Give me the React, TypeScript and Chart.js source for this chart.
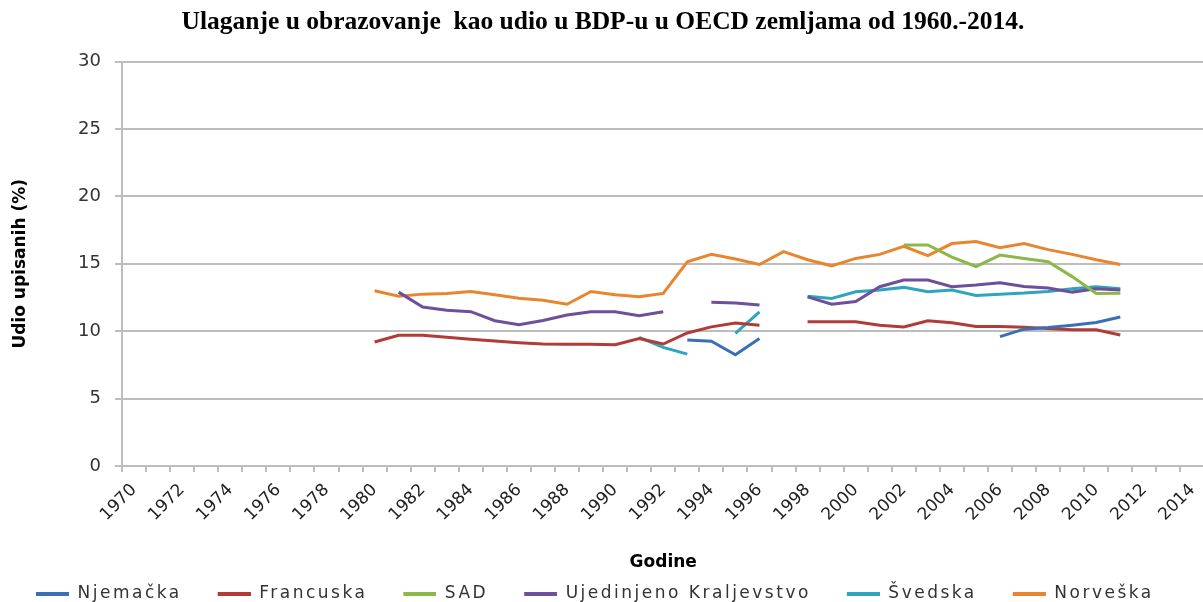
import React, { useEffect, useRef } from 'react';
import { Chart, registerables } from 'chart.js';

Chart.register(...registerables);

const TITLE = 'Ulaganje u obrazovanje  kao udio u BDP-u u OECD zemljama od 1960.-2014.';
const X_TITLE = 'Godine';
const Y_TITLE = 'Udio upisanih (%)';

const years = [
  '1970', '1971', '1972', '1973', '1974', '1975', '1976', '1977', '1978', '1979',
  '1980', '1981', '1982', '1983', '1984', '1985', '1986', '1987', '1988', '1989',
  '1990', '1991', '1992', '1993', '1994', '1995', '1996', '1997', '1998', '1999',
  '2000', '2001', '2002', '2003', '2004', '2005', '2006', '2007', '2008', '2009',
  '2010', '2011', '2012', '2013', '2014',
];

const _ = null;

// 1970-1979 empty, then 1980 ... 2014
const njemacka = [
  _, _, _, _, _, _, _, _, _, _,
  _, _, _, _, _, _, _, _, _, _,
  _, _, _, 9.35, 9.25, 8.25, 9.45, _, _, _,
  _, _, _, _, _, _, 9.6, 10.15, 10.27, 10.45,
  10.65, 11.05, _, _, _,
];

const francuska = [
  _, _, _, _, _, _, _, _, _, _,
  9.2, 9.7, 9.7, 9.55, 9.4, 9.28, 9.15, 9.05, 9.03, 9.03,
  9.0, 9.45, 9.05, 9.87, 10.32, 10.6, 10.45, _, 10.7, 10.7,
  10.7, 10.45, 10.32, 10.77, 10.62, 10.35, 10.35, 10.3, 10.2, 10.1,
  10.1, 9.72, _, _, _,
];

const sad = [
  _, _, _, _, _, _, _, _, _, _,
  _, _, _, _, _, _, _, _, _, _,
  _, _, _, _, _, _, _, _, _, _,
  _, _, 16.4, 16.4, 15.5, 14.8, 15.65, 15.4, 15.15, 14.05,
  12.8, 12.82, _, _, _,
];

const ujedinjenoKraljevstvo = [
  _, _, _, _, _, _, _, _, _, _,
  _, 12.9, 11.8, 11.55, 11.45, 10.78, 10.48, 10.8, 11.2, 11.45,
  11.45, 11.15, 11.45, _, 12.15, 12.1, 11.95, _, 12.55, 12.0,
  12.2, 13.3, 13.8, 13.8, 13.3, 13.42, 13.6, 13.32, 13.2, 12.9,
  13.15, 13.05, _, _, _,
];

const svedska = [
  _, _, _, _, _, _, _, _, _, _,
  _, _, _, _, _, _, _, _, _, _,
  _, 9.55, 8.8, 8.3, _, 9.83, 11.43, _, 12.6, 12.43,
  12.92, 13.05, 13.25, 12.92, 13.05, 12.65, 12.75, 12.83, 12.95, 13.15,
  13.3, 13.15, _, _, _,
];

const norveska = [
  _, _, _, _, _, _, _, _, _, _,
  13.0, 12.6, 12.75, 12.8, 12.95, 12.7, 12.45, 12.3, 12.0, 12.95,
  12.7, 12.55, 12.8, 15.15, 15.7, 15.35, 14.95, 15.9, 15.3, 14.85,
  15.4, 15.7, 16.3, 15.6, 16.5, 16.65, 16.2, 16.5, 16.05, 15.7,
  15.3, 14.95, _, _, _,
];

const seriesNames = ['Njemačka', 'Francuska', 'SAD', 'Ujedinjeno Kraljevstvo', 'Švedska', 'Norveška'];
const seriesData = [njemacka, francuska, sad, ujedinjenoKraljevstvo, svedska, norveska];
const seriesColors = ['#3B6FB4', '#B03B37', '#8CB84A', '#6E4F9C', '#2FA4BE', '#E8852E'];

const yTicks = [0, 5, 10, 15, 20, 25, 30];

const LEGEND_GAP = 28;
const LEGEND_LINE = 33;
const LEGEND_SPACING = '2.5px';

function legendImage(color: string) {
  const c = document.createElement('canvas');
  c.width = LEGEND_GAP + LEGEND_LINE;
  c.height = 4;
  const g = c.getContext('2d');
  if (g) {
    g.fillStyle = color;
    g.fillRect(LEGEND_GAP, 0, LEGEND_LINE, 4);
  }
  return c;
}

// widen legend text spacing (the reference legend is letter-spaced)
const legendSpacingPlugin = {
  id: 'legendSpacing',
  afterInit(chart: any) {
    const lg = chart.legend;
    if (!lg || lg.__patched) return;
    lg.__patched = true;
    const wrap = (fn: any) =>
      function (this: any, ...args: any[]) {
        const ctx = this.ctx as any;
        const prev = ctx.letterSpacing;
        ctx.letterSpacing = LEGEND_SPACING;
        const r = fn.apply(this, args);
        ctx.letterSpacing = prev ?? '0px';
        return r;
      };
    lg.fit = wrap(lg.fit);
    lg.draw = wrap(lg.draw);
  },
};

const GRID = '#BDBDBD';

export default function App() {
  const ref = useRef<HTMLCanvasElement | null>(null);

  useEffect(() => {
    if (!ref.current) return;
    const imgs = seriesColors.map(legendImage);
    const chart = new Chart(ref.current, {
      type: 'line',
      data: {
        labels: years,
        datasets: seriesNames.map((name, i) => ({
          label: name,
          data: seriesData[i],
          borderColor: seriesColors[i],
          backgroundColor: seriesColors[i],
          borderWidth: 3,
          pointRadius: 0,
          tension: 0,
          spanGaps: false,
        })),
      },
      plugins: [legendSpacingPlugin],
      options: {
        responsive: false,
        animation: false,
        layout: { padding: { left: 0, right: 9, top: 0, bottom: 0 } },
        plugins: {
          title: {
            display: true,
            text: TITLE,
            color: '#000',
            font: { family: 'Liberation Serif', size: 25.5, weight: 'bold' },
            padding: { top: 7, bottom: 24 },
          },
          legend: {
            position: 'bottom',
            align: 'start',
            labels: {
              usePointStyle: true,
              pointStyleWidth: LEGEND_GAP + LEGEND_LINE,
              padding: 8,
              color: '#333',
              font: { family: 'DejaVu Sans', size: 17 },
              generateLabels: (ch: any) =>
                Chart.defaults.plugins.legend.labels
                  .generateLabels(ch)
                  .map((it: any, i: number) => ({ ...it, pointStyle: imgs[i] })),
            },
          },
          tooltip: { enabled: false },
        },
        scales: {
          x: {
            type: 'category',
            offset: true,
            grid: {
              offset: true,
              drawOnChartArea: false,
              drawTicks: true,
              tickLength: 6,
              color: GRID,
              lineWidth: 2,
            },
            border: { color: GRID, width: 2 },
            ticks: {
              autoSkip: false,
              minRotation: 45,
              maxRotation: 45,
              padding: 8,
              color: '#222',
              font: { family: 'DejaVu Sans', size: 17 },
              callback: (_v: any, i: number) => (i % 2 === 0 ? years[i] : ''),
            },
            title: {
              display: true,
              text: X_TITLE,
              color: '#000',
              font: { family: 'DejaVu Sans', size: 17, weight: 'bold' },
              padding: { top: 0, bottom: 4 },
            },
            afterFit: (s: any) => {
              s.height = 111;
            },
          },
          y: {
            min: yTicks[0],
            max: yTicks[yTicks.length - 1],
            ticks: {
              stepSize: 5,
              padding: 14,
              color: '#333',
              font: { family: 'DejaVu Sans', size: 18 },
            },
            grid: { color: GRID, lineWidth: 2, tickLength: 7 },
            border: { color: GRID, width: 2 },
            title: {
              display: true,
              text: Y_TITLE,
              color: '#000',
              font: { family: 'DejaVu Sans', size: 17, weight: 'bold' },
              padding: { top: 10, bottom: 0 },
            },
            afterFit: (s: any) => {
              s.width = 122;
            },
          },
        },
      },
    } as any);
    return () => chart.destroy();
  }, []);

  return (
    <div
      style={{
        position: 'absolute',
        left: 0,
        top: 0,
        width: 1203,
        height: 602,
        overflow: 'hidden',
        background: '#fff',
      }}
    >
      <canvas ref={ref} width={1215} height={612} style={{ display: 'block' }} />
    </div>
  );
}
